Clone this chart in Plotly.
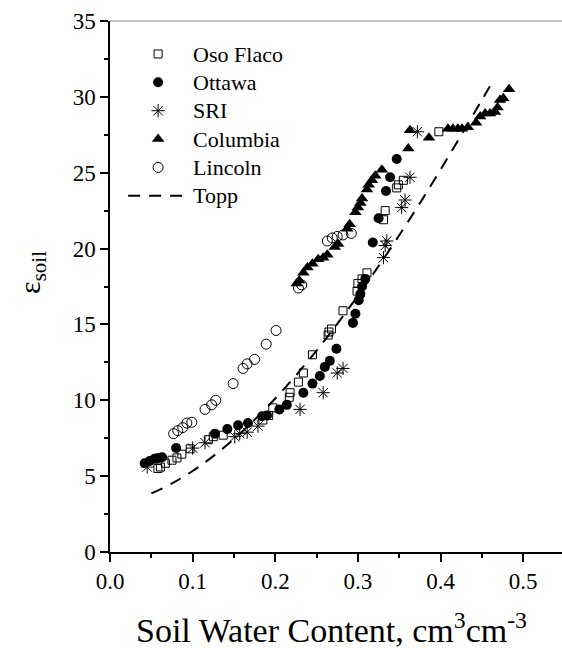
import plotly.graph_objects as go

# Soil water content (cm3/cm3) and measured dielectric constant per soil
oso_theta = [0.058, 0.061, 0.067, 0.075, 0.081, 0.087, 0.097, 0.119, 0.125, 0.137,
             0.185, 0.192, 0.197, 0.217, 0.218, 0.228, 0.234, 0.245, 0.264, 0.265,
             0.268, 0.282, 0.299, 0.300, 0.305, 0.311, 0.331, 0.333, 0.347, 0.349,
             0.355, 0.398]
oso_eps = [5.5, 5.6, 5.85, 6.05, 6.2, 6.45, 6.8, 7.4, 7.6, 7.7,
           8.7, 9.0, 9.5, 10.2, 10.5, 11.2, 11.8, 13.0, 14.3, 14.5,
           14.7, 15.9, 17.2, 17.7, 18.0, 18.4, 21.9, 22.5, 24.0, 24.2,
           24.5, 27.7]

ottawa_theta = [0.042, 0.048, 0.054, 0.058, 0.063, 0.080, 0.127, 0.142, 0.155, 0.167,
                0.184, 0.190, 0.205, 0.214, 0.234, 0.245, 0.254, 0.260, 0.266, 0.274,
                0.294, 0.297, 0.301, 0.303, 0.305, 0.309, 0.318, 0.325, 0.334, 0.339,
                0.347]
ottawa_eps = [5.85, 6.0, 6.15, 6.2, 6.25, 6.85, 7.8, 8.1, 8.35, 8.5,
              8.95, 9.0, 9.4, 9.7, 10.5, 11.1, 11.6, 12.2, 12.6, 13.4,
              15.1, 15.7, 16.6, 17.0, 17.5, 18.0, 20.4, 22.0, 23.8, 24.7,
              25.9]

sri_theta = [0.045, 0.100, 0.115, 0.151, 0.157, 0.166, 0.179, 0.230, 0.258, 0.275,
             0.282, 0.331, 0.333, 0.335, 0.353, 0.357, 0.363, 0.372]
sri_eps = [5.6, 6.85, 7.2, 7.6, 7.8, 7.9, 8.3, 9.4, 10.5, 11.8,
           12.1, 19.4, 20.2, 20.5, 22.7, 23.2, 24.7, 27.7]

columbia_theta = [0.226, 0.229, 0.234, 0.239, 0.245, 0.252, 0.258, 0.263, 0.272, 0.276,
                  0.287, 0.290, 0.297, 0.300, 0.303, 0.305, 0.311, 0.313, 0.317, 0.321,
                  0.329, 0.361, 0.363, 0.386, 0.409, 0.415, 0.421, 0.426, 0.433, 0.443,
                  0.448, 0.454, 0.460, 0.466, 0.469, 0.472, 0.476, 0.483]
columbia_eps = [17.7, 17.9, 18.4, 18.75, 19.0, 19.3, 19.4, 19.6, 20.1, 20.3,
                21.3, 21.6, 22.4, 22.7, 23.0, 23.3, 23.9, 24.2, 24.5, 24.8,
                25.2, 26.6, 27.8, 27.3, 27.9, 27.9, 27.9, 27.9, 28.0, 28.3,
                28.7, 28.9, 28.9, 29.0, 29.3, 29.8, 29.9, 30.5]

lincoln_theta = [0.077, 0.082, 0.088, 0.093, 0.099, 0.115, 0.123, 0.128, 0.149, 0.161,
                 0.166, 0.175, 0.189, 0.201, 0.228, 0.232, 0.263, 0.269, 0.275, 0.282,
                 0.292]
lincoln_eps = [7.8, 8.0, 8.2, 8.5, 8.55, 9.4, 9.7, 10.0, 11.1, 12.1,
               12.4, 12.7, 13.7, 14.6, 17.4, 17.6, 20.5, 20.7, 20.8, 20.9,
               21.0]

# Topp curve
topp_theta = [0.05, 0.075, 0.10, 0.125, 0.15, 0.175, 0.20, 0.225, 0.25, 0.275,
              0.30, 0.325, 0.35, 0.375, 0.40, 0.425, 0.45, 0.46]
topp_eps = [3.86, 4.52, 5.34, 6.32, 7.45, 8.72, 10.12, 11.64, 13.28, 15.03,
            16.89, 18.84, 20.88, 22.99, 25.20, 27.47, 29.79, 30.73]

x_tickvals = [0.0, 0.1, 0.2, 0.3, 0.4, 0.5]
x_ticktext = ["0.0", "0.1", "0.2", "0.3", "0.4", "0.5"]
y_tickvals = [0, 5, 10, 15, 20, 25, 30, 35]

FONT = "Liberation Serif, Times New Roman, Times, serif"


def legend_label(text):
    # legend rows are spaced by the legend font size; labels render a bit larger
    return "<span style='font-size:22px'>" + text + "</span>"


fig = go.Figure()

fig.add_trace(go.Scatter(
    x=oso_theta, y=oso_eps, mode="markers", name=legend_label("Oso Flaco"),
    marker=dict(symbol="square-open", size=8, color="black",
                line=dict(width=1, color="black"))))
fig.add_trace(go.Scatter(
    x=ottawa_theta, y=ottawa_eps, mode="markers", name=legend_label("Ottawa"),
    marker=dict(symbol="circle", size=10, color="black")))
fig.add_trace(go.Scatter(
    x=sri_theta, y=sri_eps, mode="markers", name=legend_label("SRI"),
    marker=dict(symbol="asterisk-open", size=11, color="black",
                line=dict(width=1, color="black"))))
fig.add_trace(go.Scatter(
    x=columbia_theta, y=columbia_eps, mode="markers", name=legend_label("Columbia"),
    marker=dict(symbol="triangle-up", size=11, color="black")))
fig.add_trace(go.Scatter(
    x=lincoln_theta, y=lincoln_eps, mode="markers", name=legend_label("Lincoln"),
    marker=dict(symbol="circle-open", size=10, color="black",
                line=dict(width=1, color="black"))))
fig.add_trace(go.Scatter(
    x=topp_theta, y=topp_eps, mode="lines", name=legend_label("Topp"),
    line=dict(color="black", width=2, dash="12px,9px", shape="spline")))

tick_font = dict(family=FONT, size=23, color="black")

fig.update_layout(
    width=562, height=648, autosize=False,
    margin=dict(l=110, r=0, t=21, b=96, pad=0),
    plot_bgcolor="white", paper_bgcolor="white",
    font=dict(family=FONT, size=22, color="black"),
    showlegend=True,
    legend=dict(x=0.029, y=0.974, xanchor="left", yanchor="top",
                bgcolor="rgba(0,0,0,0)", borderwidth=0,
                font=dict(family=FONT, size=19.5, color="black"),
                itemwidth=60, tracegroupgap=0),
    xaxis=dict(range=[0, 0.547], tickvals=x_tickvals, ticktext=x_ticktext,
               showgrid=False, zeroline=False, showline=True,
               linecolor="black", linewidth=1.5,
               ticks="outside", ticklen=8, tickwidth=1.5, tickcolor="black",
               tickfont=tick_font,
               minor=dict(dtick=0.05, ticks="outside", ticklen=4,
                          tickwidth=1.5, tickcolor="black", showgrid=False)),
    yaxis=dict(range=[0, 35], tickvals=y_tickvals,
               showgrid=False, zeroline=False, showline=True,
               linecolor="black", linewidth=1.5,
               ticks="outside", ticklen=8, tickwidth=1.5, tickcolor="black",
               tickfont=tick_font,
               minor=dict(dtick=2.5, ticks="outside", ticklen=4,
                          tickwidth=1.5, tickcolor="black", showgrid=False)),
    shapes=[dict(type="line", xref="paper", yref="paper",
                 x0=0, x1=1, y0=1, y1=1,
                 line=dict(color="#888888", width=1))],
    annotations=[
        dict(text="Soil Water Content, cm<sup>3</sup>cm<sup>-3</sup>",
             xref="paper", yref="paper", x=0.489, y=-0.143,
             xanchor="center", yanchor="middle", showarrow=False,
             font=dict(family=FONT, size=34, color="black")),
        dict(text="ε<sub>soil</sub>",
             xref="paper", yref="paper", x=-0.173, y=0.527,
             xanchor="center", yanchor="middle", showarrow=False,
             textangle=-90,
             font=dict(family=FONT, size=30, color="black")),
    ],
)

fig.write_html("out.html")
